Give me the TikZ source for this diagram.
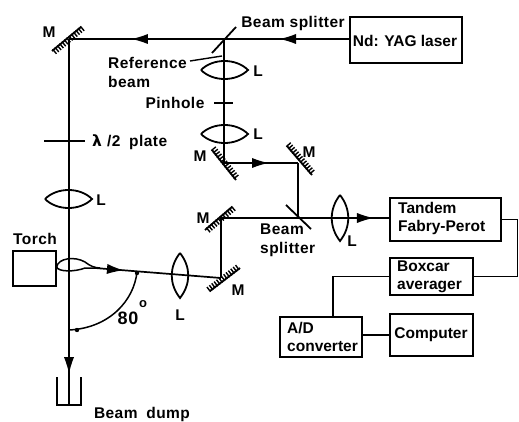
\documentclass[tikz,border=0pt]{standalone}
\usepackage{fontspec}
\setmainfont{Liberation Sans}[LetterSpace=3,BoldFont={Liberation Sans Bold}]
\newfontfamily\symfont{DejaVu Sans}
\usetikzlibrary{arrows.meta,decorations.markings,decorations.pathreplacing}
\tikzset{
  beam/.style={line width=1.7pt,black},
  box/.style={draw,line width=1.7pt,minimum width=#1,inner sep=0pt,align=left},
  txt/.style={font=\fontsize{15.5}{19}\selectfont\bfseries,inner sep=0pt,align=left},
  boxtxt/.style={font=\fontsize{15.5}{18}\selectfont\bfseries\addfontfeature{LetterSpace=0},inner sep=0pt,align=left},
  arrowat/.style={postaction={decorate,decoration={markings,mark=at position #1 with {\arrow[line width=0pt]{Latex[length=16pt,width=10pt]}}}}},
  mirrorline/.style={line width=1.8pt},
  hatch/.style={line width=1.4pt,decorate,decoration={ticks,segment length=3pt,amplitude=3pt,raise=2pt}},
  lensline/.style={line width=1.8pt},
}
% mirror: #1 start, #2 end
\newcommand{\mirrorat}[2]{\draw[mirrorline] #1 -- #2; \draw[hatch] #1 -- #2;}
\newcommand{\hlens}[3]{\draw[lensline] (#1,#3) .. controls (#1+12,#3-12) and (#2-12,#3-12) .. (#2,#3) .. controls (#2-12,#3+12) and (#1+12,#3+12) .. (#1,#3);}
\newcommand{\vlens}[3]{\draw[lensline] (#3,#1) .. controls (#3-11,#1+14) and (#3-11,#2-14) .. (#3,#2) .. controls (#3+11,#2-14) and (#3+11,#1+14) .. (#3,#1);}
\begin{document}
\begin{tikzpicture}[x=1pt,y=-1pt]
\useasboundingbox (0,0) rectangle (519,422);
% boxes
\node[box=112pt,minimum height=46pt,anchor=north west] (laser) at (349,16) {};
\node[boxtxt] (lasertxt) at (405,41) {Nd: YAG laser};
\node[box=43pt,minimum height=35pt,anchor=north west] (torch) at (12,250) {};
\node[box=111pt,minimum height=43pt,anchor=north west] (tandem) at (389,197) {};
\node[box=83pt,minimum height=37pt,anchor=north west] (boxcar) at (389,257) {};
\node[box=82pt,minimum height=40pt,anchor=north west] (adc) at (279,316) {};
\node[box=83pt,minimum height=42pt,anchor=north west] (computer) at (389,313) {};
\node[boxtxt,anchor=west] (tandemtxt) at (398,218.5) {Tandem\\Fabry-Perot};
\node[boxtxt,anchor=west] (boxcartxt) at (397,277) {Boxcar\\averager};
\node[boxtxt,anchor=west] (adctxt) at (287,336.5) {A/D\\converter};
\node[boxtxt] (computertxt) at (431,335) {Computer};
% coordinates
\coordinate (mtl) at (69,39);
\coordinate (bs1) at (224,39);
\coordinate (m2) at (224,163);
\coordinate (m3) at (298,163);
\coordinate (bs2) at (298,218);
\coordinate (m4) at (221,218);
\coordinate (m5) at (221,278);
\coordinate (dump) at (69,405);
\coordinate (plumeend) at (95,268);
\coordinate (leaderS) at (190,61);
\coordinate (leaderE) at (222,56);
\coordinate (rail) at (517.5,0);
\coordinate (adctap) at (333,0);
% beams
\draw[beam,arrowat=.552] (laser.west |- mtl) -- (bs1);
\draw[beam,arrowat=.594] (bs1) -- (mtl);
\draw[beam,arrowat=.913] (mtl) -- (dump);
\draw[beam] (bs1) -- (m2);
\draw[beam,arrowat=.595] (m2) -- (m3);
\draw[beam] (m3) -- (bs2);
\draw[beam] (m4) -- (bs2);
\draw[beam,arrowat=.824] (bs2) -- (tandem.west |- bs2);
\draw[beam] (m4) -- (m5);
\draw[beam,arrowat=.222] (plumeend) -- (m5);
\draw[line width=1.4pt] (leaderS) -- (leaderE);
% electrical lines
\draw[beam] (tandem.east) -| (rail |- boxcar.east) -- (boxcar.east);
\draw[beam] (boxcar.west) -| (adctap |- adc.north);
\draw[beam] (adc.east |- computer.west) -- (computer.west);
% mirrors
\mirrorat{(81,27)}{(52,51)}
\mirrorat{(212,150)}{(236,180)}
\mirrorat{(287,146)}{(312,175)}
\mirrorat{(232,207)}{(205,230)}
\mirrorat{(210,291)}{(240,268)}
% splitters
\draw[mirrorline] (212,53) -- (236,27);
\draw[mirrorline] (286,205) -- (311,229);
% lenses
\hlens{201}{248}{70}
\hlens{201}{248}{134}
\hlens{45}{92}{199}
\vlens{195}{241}{340}
\vlens{253}{298}{180}
% ticks
\draw[beam] (214,103) -- (233,103);
\draw[beam] (44,141) -- (85,141);
% plume
\draw[line width=1.5pt] (torch.east |- 0,267) .. controls (58,258) and (75,256) .. (85,262) .. controls (90,266) and (95,268) .. (100,268);
\draw[line width=1.5pt] (torch.east |- 0,267) .. controls (58,272) and (75,272) .. (85,268) -- (100,268);
% angle
\draw[line width=1.5pt] (137,272) .. controls (134,300) and (110,328) .. (69,330);
\fill (137,273) circle (2.2pt);
\fill (77,330) circle (2.2pt);
% dump
\draw[beam] (57,377) -- (57,405) -- (81,405) -- (81,377);
% labels
\node[txt] (lblM1) at (49,32) {M};
\node[txt] (lblM2) at (200,156) {M};
\node[txt] (lblM3) at (309,152) {M};
\node[txt] (lblM4) at (203,218) {M};
\node[txt] (lblM5) at (238,290) {M};
\node[txt] (lblBS) at (293,23) {Beam splitter};
\node[txt,anchor=west] (lblRef) at (108,72) {Reference\\beam};
\node[txt] (lblPin) at (175,103) {Pinhole};
\node[txt] (lblL1) at (258,71) {L};
\node[txt] (lblL2) at (258,134) {L};
\node[txt] (lblL3) at (101,200) {L};
\node[txt] (lblL4) at (352,241) {L};
\node[txt] (lblL5) at (180,315) {L};
\node[txt,anchor=west] (lblPlate) at (92,142) {{\symfont\bfseries λ}\hspace{5pt}/2\hspace{4pt} plate};
\node[txt,anchor=west] (lblBS2) at (260,240.5) {Beam\\splitter};
\node[txt] (lblTorch) at (35,239) {Torch};
\node[txt,font=\fontsize{18}{20}\selectfont\bfseries] (lbl80) at (128,318) {80};
\node[txt,font=\fontsize{13}{15}\selectfont\bfseries] (lblDeg) at (143,304) {o};
\node[txt] (lblDump) at (142,414) {Beam\hspace{4pt} dump};
\end{tikzpicture}
\end{document}
